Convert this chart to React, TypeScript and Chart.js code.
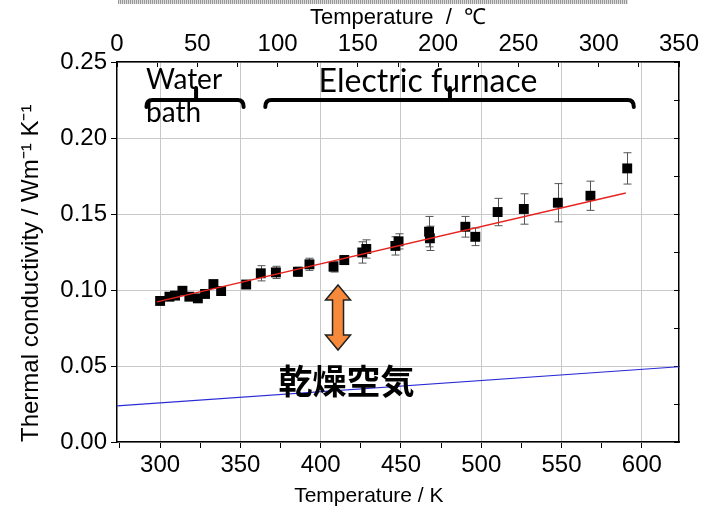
import React, { useEffect, useRef } from 'react';
import { Chart, registerables } from 'chart.js';

Chart.register(...registerables);

// Measured thermal conductivity (K, W m^-1 K^-1) and its error
const TEMPS_K = [300, 305.8, 309.3, 313.9, 318.2, 323.5, 328.0, 333.2, 338.0, 353.6, 362.7, 372.1, 385.8, 393.0, 408.0, 414.7, 425.9, 428.4, 446.5, 448.5, 467.5, 468.0, 490.1, 496.3, 510.2, 526.5, 547.7, 568.0, 590.9];
const CONDUCTIVITY = [0.0928, 0.0956, 0.0963, 0.0995, 0.0956, 0.0945, 0.0974, 0.1039, 0.0993, 0.1036, 0.1110, 0.1116, 0.1120, 0.1169, 0.1153, 0.1197, 0.1247, 0.1270, 0.1290, 0.1320, 0.1384, 0.1340, 0.1416, 0.1350, 0.1513, 0.1533, 0.1574, 0.1620, 0.1800];
const ERRORS = [0.0015, 0.0015, 0.0015, 0.0015, 0.0015, 0.0015, 0.0015, 0.0015, 0.0015, 0.0015, 0.005, 0.004, 0.003, 0.004, 0.0035, 0.003, 0.007, 0.006, 0.006, 0.005, 0.010, 0.008, 0.0068, 0.0058, 0.009, 0.010, 0.0126, 0.0096, 0.0103];

// Linear fit (red) and dry air reference (blue)
const FIT_T = [298, 590];
const FIT_K = [0.0922, 0.1638];
const AIR_T = [273.15, 623.15];
const AIR_K = [0.0237, 0.0495];

// Axis ticks
const X_TICKS_K = [275, 300, 325, 350, 375, 400, 425, 450, 475, 500, 525, 550, 575, 600];
const X_TICKS_C = [0, 25, 50, 75, 100, 125, 150, 175, 200, 225, 250, 275, 300, 325, 350];
const Y_TICKS = [0, 0.05, 0.1, 0.15, 0.2, 0.25];
const Y_TICKS_MINOR = [0, 0.025, 0.05, 0.075, 0.1, 0.125, 0.15, 0.175, 0.2, 0.225, 0.25];

// Annotations (data coordinates)
const WATER_BRACE = { from: 291.5, to: 352, tip: 322.4, k: 0.225 };
const FURNACE_BRACE = { from: 365.5, to: 595, tip: 480.5, k: 0.225 };
const WATER_LABEL = { t: 291.2, k1: 0.2322, k2: 0.2105 };
const FURNACE_LABEL = { t: 466.8, k: 0.2303 };
const GAP_ARROW = { t: 410.8, kTop: 0.1033, kBottom: 0.0605 };
const AIR_LABEL = { t: 416.1, k: 0.0401, text: '乾燥空気' };

const FAMILY = 'Liberation Sans, Arial, sans-serif';
const TICK_FONT = { family: FAMILY, size: 24 };
const X_TITLE_FONT = { family: FAMILY, size: 21 };
const TOP_TITLE_FONT = { family: FAMILY, size: 22 };
const Y_TITLE_FONT = { family: FAMILY, size: 24 };
const GRID = '#c8c8c8';

function drawBrace(ctx: CanvasRenderingContext2D, x1: number, x2: number, xm: number, y: number) {
  const r = 6;
  const endH = 7;
  const tipH = 12;
  ctx.beginPath();
  ctx.moveTo(x1, y + endH);
  ctx.quadraticCurveTo(x1, y, x1 + r, y);
  ctx.lineTo(x2 - r, y);
  ctx.quadraticCurveTo(x2, y, x2, y + endH);
  ctx.moveTo(xm, y);
  ctx.lineTo(xm, y - tipH);
  ctx.stroke();
}

const overlay = {
  id: 'overlay',
  beforeDatasetsDraw(chart: any) {
    const { ctx, scales } = chart;
    const x = scales.x;
    const y = scales.y;
    ctx.save();
    ctx.strokeStyle = '#555';
    ctx.lineWidth = 1;
    TEMPS_K.forEach((t, i) => {
      const e = ERRORS[i];
      const px = Math.round(x.getPixelForValue(t)) + 0.5;
      const top = y.getPixelForValue(CONDUCTIVITY[i] + e);
      const bot = y.getPixelForValue(CONDUCTIVITY[i] - e);
      ctx.beginPath();
      ctx.moveTo(px, top);
      ctx.lineTo(px, bot);
      ctx.moveTo(px - 4, top);
      ctx.lineTo(px + 4, top);
      ctx.moveTo(px - 4, bot);
      ctx.lineTo(px + 4, bot);
      ctx.stroke();
    });
    ctx.restore();
  },
  afterDatasetsDraw(chart: any) {
    const { ctx, scales } = chart;
    const x = scales.x;
    const y = scales.y;
    ctx.save();
    // braces
    ctx.strokeStyle = '#000';
    ctx.lineWidth = 4;
    ctx.lineCap = 'round';
    ctx.lineJoin = 'round';
    drawBrace(ctx, x.getPixelForValue(WATER_BRACE.from), x.getPixelForValue(WATER_BRACE.to), x.getPixelForValue(WATER_BRACE.tip), y.getPixelForValue(WATER_BRACE.k));
    drawBrace(ctx, x.getPixelForValue(FURNACE_BRACE.from), x.getPixelForValue(FURNACE_BRACE.to), x.getPixelForValue(FURNACE_BRACE.tip), y.getPixelForValue(FURNACE_BRACE.k));

    // labels
    ctx.fillStyle = '#000';
    ctx.textBaseline = 'alphabetic';
    ctx.font = '28px Lato, "Open Sans", sans-serif';
    ctx.textAlign = 'left';
    ctx.fillText('Water', x.getPixelForValue(WATER_LABEL.t), y.getPixelForValue(WATER_LABEL.k1));
    ctx.fillText('bath', x.getPixelForValue(WATER_LABEL.t), y.getPixelForValue(WATER_LABEL.k2));
    ctx.font = '32px Lato, "Open Sans", sans-serif';
    ctx.textAlign = 'center';
    ctx.fillText('Electric furnace', x.getPixelForValue(FURNACE_LABEL.t), y.getPixelForValue(FURNACE_LABEL.k));

    // double arrow
    const ax = x.getPixelForValue(GAP_ARROW.t);
    const ay1 = y.getPixelForValue(GAP_ARROW.kTop);
    const ay2 = y.getPixelForValue(GAP_ARROW.kBottom);
    const hw = 12.5, sw = 5.5, hl = 15;
    ctx.beginPath();
    ctx.moveTo(ax, ay1);
    ctx.lineTo(ax + hw, ay1 + hl);
    ctx.lineTo(ax + sw, ay1 + hl);
    ctx.lineTo(ax + sw, ay2 - hl);
    ctx.lineTo(ax + hw, ay2 - hl);
    ctx.lineTo(ax, ay2);
    ctx.lineTo(ax - hw, ay2 - hl);
    ctx.lineTo(ax - sw, ay2 - hl);
    ctx.lineTo(ax - sw, ay1 + hl);
    ctx.lineTo(ax - hw, ay1 + hl);
    ctx.closePath();
    ctx.fillStyle = '#f68a3a';
    ctx.fill();
    ctx.lineWidth = 1.5;
    ctx.lineCap = 'butt';
    ctx.lineJoin = 'miter';
    ctx.strokeStyle = '#222';
    ctx.stroke();

    // dry air label
    ctx.fillStyle = '#000';
    ctx.font = 'bold 34px "Noto Sans CJK JP", sans-serif';
    ctx.textAlign = 'center';
    ctx.textBaseline = 'middle';
    ctx.fillText(AIR_LABEL.text, x.getPixelForValue(AIR_LABEL.t), y.getPixelForValue(AIR_LABEL.k));
    ctx.restore();
  },
};

export default function App() {
  const ref = useRef<HTMLCanvasElement | null>(null);

  useEffect(() => {
    if (!ref.current) return;
    const chart = new Chart(ref.current, {
      type: 'scatter',
      data: {
        datasets: [
          {
            type: 'line',
            data: FIT_T.map((t, i) => ({ x: t, y: FIT_K[i] })),
            borderColor: '#e8231f',
            borderWidth: 1.5,
            pointRadius: 0,
            xAxisID: 'x',
            yAxisID: 'y',
          } as any,
          {
            type: 'scatter',
            data: TEMPS_K.map((t, i) => ({ x: t, y: CONDUCTIVITY[i] })),
            pointStyle: 'rect',
            pointRadius: 7,
            backgroundColor: '#000',
            borderColor: '#000',
            borderWidth: 0,
            xAxisID: 'x',
            yAxisID: 'y',
          },
          {
            type: 'line',
            data: AIR_T.map((t, i) => ({ x: t, y: AIR_K[i] })),
            borderColor: '#2b2bd6',
            borderWidth: 1.2,
            pointRadius: 0,
            xAxisID: 'x',
            yAxisID: 'y',
          } as any,
        ],
      },
      options: {
        animation: false,
        responsive: false,
        devicePixelRatio: 1,
        layout: { padding: 0 },
        plugins: { legend: { display: false }, tooltip: { enabled: false } },
        scales: {
          x: {
            type: 'linear',
            position: 'bottom',
            min: 273.15,
            max: 623.15,
            afterBuildTicks: (s: any) => { s.ticks = X_TICKS_K.map((v) => ({ value: v })); },
            afterFit: (s: any) => { s.height = 69; s.paddingLeft = 0; s.paddingRight = 0; },
            ticks: {
              callback: (v: any) => (v % 50 === 0 ? String(v) : ''),
              font: TICK_FONT,
              color: '#000',
              padding: 3,
              maxRotation: 0,
              autoSkip: false,
            },
            grid: {
              color: (c: any) => (c.tick && c.tick.value % 50 === 0 ? GRID : 'rgba(0,0,0,0)'),
              tickColor: '#000',
              tickLength: 6,
              lineWidth: 1,
            },
            border: { color: '#000', width: 1.5 },
            title: {
              display: true,
              text: 'Temperature / K' + '\u00A0'.repeat(10),
              font: X_TITLE_FONT,
              color: '#000',
              padding: { top: 0, bottom: 2 },
            },
          },
          xTop: {
            type: 'linear',
            position: 'top',
            min: 0,
            max: 350,
            afterBuildTicks: (s: any) => { s.ticks = X_TICKS_C.map((v) => ({ value: v })); },
            afterFit: (s: any) => { s.height = 62; s.paddingLeft = 0; s.paddingRight = 0; },
            ticks: {
              callback: (v: any) => (v % 50 === 0 ? String(v) : ''),
              font: TICK_FONT,
              color: '#000',
              padding: 8,
              maxRotation: 0,
              autoSkip: false,
            },
            grid: { drawOnChartArea: false, tickColor: '#000', tickLength: -5 },
            border: { color: '#000', width: 1.5 },
            title: {
              display: true,
              text: 'Temperature \u00A0/\u00A0 ℃',
              font: TOP_TITLE_FONT,
              color: '#000',
              padding: { top: 5, bottom: 0 },
            },
          },
          y: {
            type: 'linear',
            position: 'left',
            min: 0,
            max: 0.25,
            afterBuildTicks: (s: any) => { s.ticks = Y_TICKS.map((v) => ({ value: v })); },
            afterFit: (s: any) => { s.width = 117; s.paddingTop = 0; s.paddingBottom = 0; },
            ticks: {
              callback: (v: any) => Number(v).toFixed(2),
              font: TICK_FONT,
              color: '#000',
              padding: 4,
              autoSkip: false,
            },
            grid: { color: GRID, tickColor: '#000', tickLength: 6, lineWidth: 1 },
            border: { color: '#000', width: 1.5 },
            title: {
              display: true,
              text: 'Thermal conductivity / Wm⁻¹ K⁻¹',
              font: Y_TITLE_FONT,
              color: '#000',
              align: 'start',
              padding: { top: 17, bottom: 0 },
            },
          },
          y2: {
            type: 'linear',
            position: 'right',
            min: 0,
            max: 0.25,
            afterBuildTicks: (s: any) => { s.ticks = Y_TICKS_MINOR.map((v) => ({ value: v })); },
            afterFit: (s: any) => { s.width = 23; s.paddingTop = 0; s.paddingBottom = 0; },
            ticks: { display: false },
            grid: { drawOnChartArea: false, tickColor: '#000', tickLength: -5 },
            border: { color: '#000', width: 1.5 },
          },
        },
      } as any,
      plugins: [overlay],
    });
    return () => chart.destroy();
  }, []);

  return (
    <div style={{ position: 'absolute', left: 0, top: 0, width: 702, height: 511, background: '#fff' }}>
      <div style={{ position: 'absolute', left: 118, top: 0, width: 510, height: 4, background: 'repeating-linear-gradient(90deg, #999 0px, #999 1px, #ddd 1px, #ddd 2px)' }} />
      <canvas ref={ref} width={702} height={511} style={{ position: 'absolute', left: 0, top: 0, width: 702, height: 511 }} />
    </div>
  );
}
